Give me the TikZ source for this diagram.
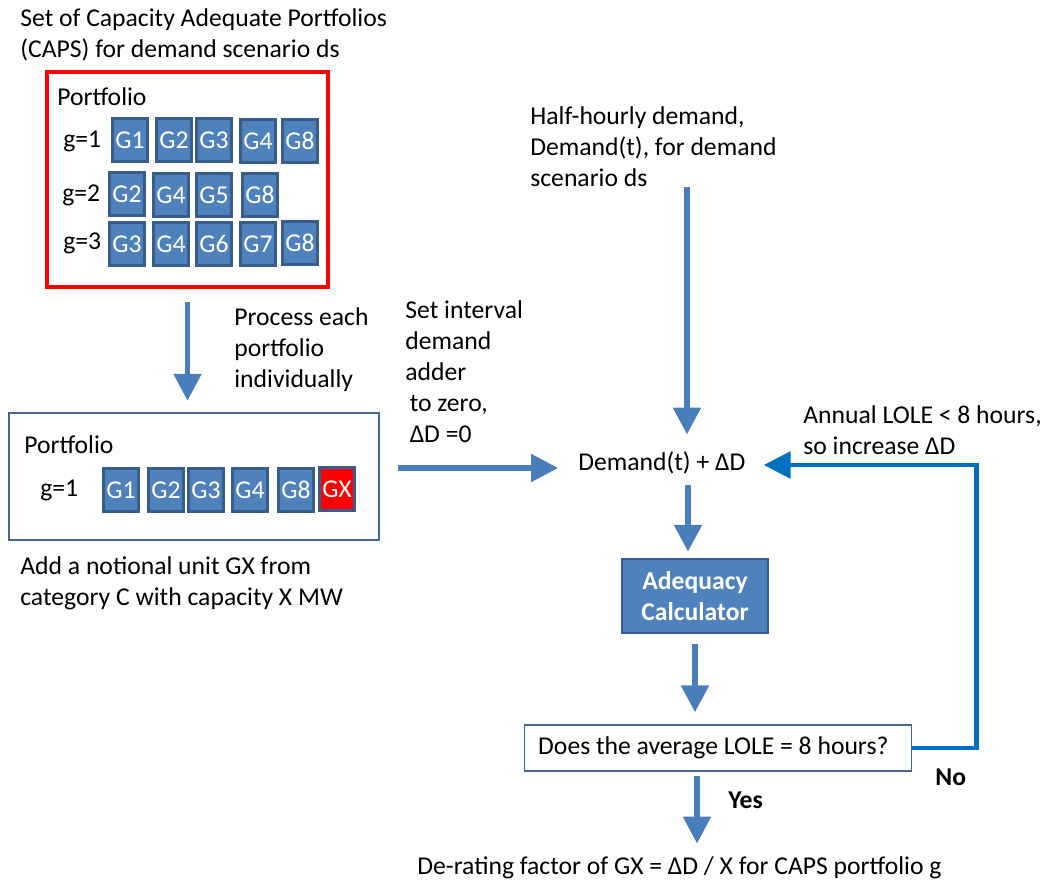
\documentclass[tikz,border=0pt]{standalone}
\usepackage{fontspec}
\setmainfont{Carlito}
\usetikzlibrary{arrows.meta, positioning}

\definecolor{genfill}{HTML}{4F81BD}
\definecolor{genedge}{HTML}{385D8A}
\definecolor{boxedge}{HTML}{41669A}
\definecolor{arrowblue}{HTML}{4A7EBB}
\definecolor{loopblue}{HTML}{0070C0}
\definecolor{gxred}{HTML}{FF0000}
\newcommand{\flowsize}{\fontsize{14.6}{17.6}\selectfont}

\begin{document}
\begin{tikzpicture}[x=0.02cm, y=-0.02cm,
	txt/.style={inner sep=0pt, align=left, anchor=west, font=\flowsize},
	gen/.style={draw=genedge, fill=genfill, line width=1.3pt, text=white, minimum width=0.7cm, minimum height=0.86cm, inner sep=0pt, font=\flowsize},
	flow/.style={draw=arrowblue, line width=3.1pt, -{Triangle[width=15.3pt,length=15.3pt]}},
	backflow/.style={draw=loopblue, line width=2.8pt, -{Triangle[width=15pt,length=15.3pt]}}]
	\useasboundingbox (0,0) rectangle (1043,881);

	% set of CAPS portfolios
	\node [txt] (capsnote) at (20,35) {Set of Capacity Adequate Portfolios\\(CAPS) for demand scenario ds};
	\node [draw=red, line width=1.8pt, minimum width=5.62cm, minimum height=4.3cm, inner sep=0pt] (capsbox) at (187.5,179.5) {};
	\node [txt] (capslabel) at (57,97) {Portfolio};
	\node [txt] (rowa) at (63,141) {g=1};
	\node [txt] (rowb) at (62,195) {g=2};
	\node [txt] (rowc) at (63,243) {g=3};
	\foreach \lab/\x/\y [count=\i] in {G1/130/140, G2/174/140, G3/214/140, G4/258/141, G8/300/141}
		\node [gen] (ra\i) at (\x,\y) {\lab};
	\foreach \lab/\x/\y [count=\i] in {G2/127/194, G4/171/195, G5/214/195, G8/260/195}
		\node [gen] (rb\i) at (\x,\y) {\lab};
	\foreach \lab/\x/\y [count=\i] in {G3/127/244, G4/171/244, G6/214/244, G7/258/244, G8/300/243}
		\node [gen] (rc\i) at (\x,\y) {\lab};

	\node [txt] (eachnote) at (234,350) {Process each\\portfolio\\individually};

	% single portfolio with notional unit
	\node [draw=boxedge, line width=1.4pt, minimum width=7.4cm, minimum height=2.54cm, inner sep=0pt] (pfbox) at (194,476.5) {};
	\node [txt] (pflabel) at (24,445) {Portfolio};
	\node [txt] (pfrow) at (40,490) {g=1};
	\foreach \lab/\x [count=\i] in {G1/121, G2/166, G3/206, G4/250, G8/296}
		\node [gen] (rd\i) at (\x,490) {\lab};
	\node [gen, fill=gxred] (gx) at (337,489) {GX};
	\node [txt] (addnote) at (20,583) {Add a notional unit GX from\\category C with capacity X MW};

	\node [txt] (adder) at (405,371.5) {Set interval\\demand\\adder\\\hspace{2.5pt}to zero,\\\hspace{2.5pt}ΔD =0};

	% demand and adequacy loop
	\node [txt] (halfnote) at (530,147) {Half-hourly demand,\\Demand(t), for demand\\scenario ds};
	\node [txt] (dem) at (578,463) {Demand(t) + ΔD};
	\node [draw=genedge, fill=genfill, line width=1.5pt, minimum width=2.92cm, minimum height=1.48cm, text=white, align=center, font=\flowsize\bfseries] (calc) at (695,596) {Adequacy\\Calculator};
	\node [draw=boxedge, line width=0.8pt, minimum height=0.92cm, inner xsep=0.27cm, anchor=west, font=\flowsize] (quest) at (524,748) {\makebox[7.2cm][l]{Does the average LOLE = 8 hours?}};
	\node [txt] (raise) at (803,430) {Annual LOLE < 8 hours,\\so increase ΔD};
	\node [txt, font=\flowsize\bfseries] (nolabel) at (935,777) {No};
	\node [txt, font=\flowsize\bfseries] (yeslabel) at (728,800) {Yes};
	\node [txt] (result) at (417,868) {De-rating factor of GX = ΔD / X for CAPS portfolio g};

	\draw [flow, shorten <=0.26cm, shorten >=0.22cm] (capsbox.south) -- (capsbox.south |- pfbox.north);
	\draw [flow, shorten <=0.36cm, shorten >=0.4cm] ([yshift=-0.1cm]pfbox.east |- dem.west) -- ([yshift=-0.1cm]dem.west);
	\draw [flow, shorten >=0.34cm] ([xshift=3.14cm]halfnote.south west) -- ([xshift=3.14cm]halfnote.south west |- dem.north);
	\draw [flow, shorten <=0.2cm, shorten >=0.12cm] ([xshift=-0.14cm]calc.north |- dem.south) -- ([xshift=-0.14cm]calc.north);
	\draw [flow, shorten <=0.2cm, shorten >=0.24cm] (calc.south) -- (calc.south |- quest.north);
	\draw [flow, shorten <=0.08cm, shorten >=0.26cm] ([xshift=0.04cm]calc.south |- quest.south) -- ([xshift=0.04cm]calc.south |- result.north);
	\draw [backflow, line join=miter] (quest.east) -| ([xshift=4.62cm,yshift=-0.04cm]dem.east) -- ([xshift=0.36cm,yshift=-0.04cm]dem.east);
\end{tikzpicture}
\end{document}
